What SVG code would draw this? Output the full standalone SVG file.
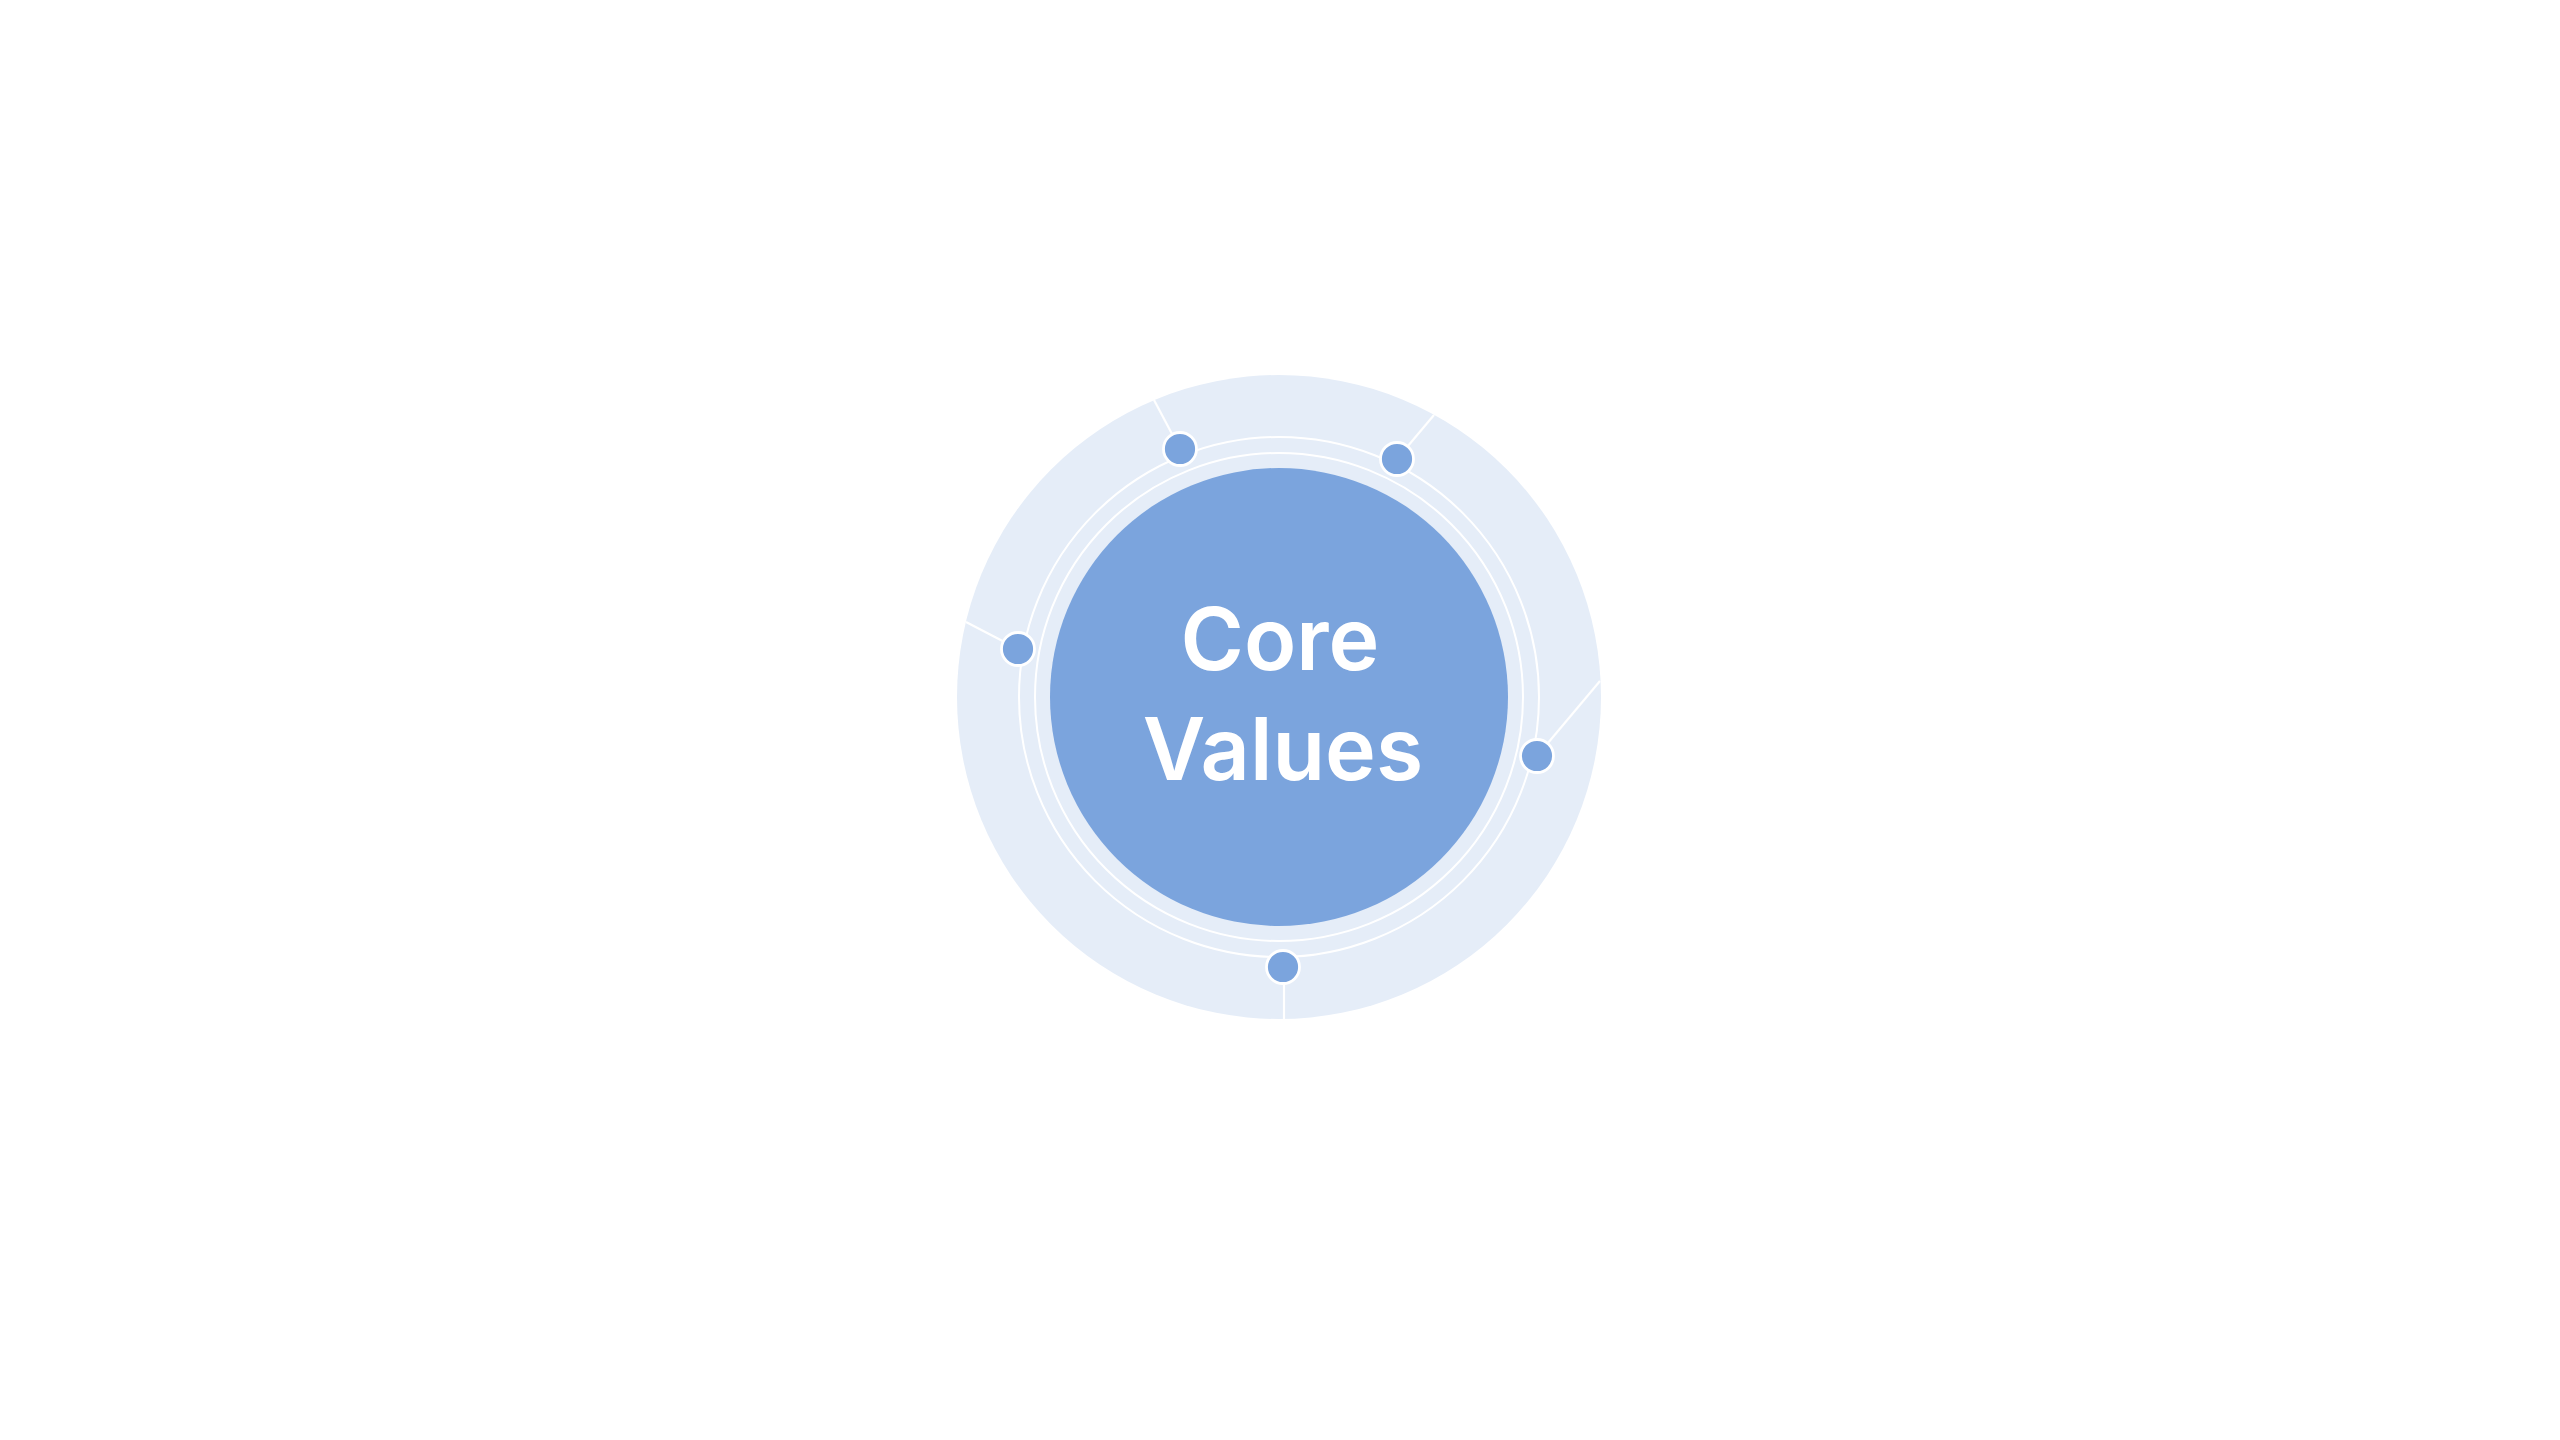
<svg xmlns="http://www.w3.org/2000/svg" width="2560" height="1440" viewBox="0 0 2560 1440">
  <style>
    .ring { fill: none; stroke: #ffffff; stroke-width: 2; }
    .link { stroke: #ffffff; stroke-width: 2.2; fill: none; }
    .dot { fill: #7ba4dd; stroke: #ffffff; stroke-width: 2.8; }
    .title { font-family: Inter, "Liberation Sans", sans-serif; font-weight: 600; font-size: 86px; fill: #ffffff; text-anchor: middle; }
  </style>
  <rect x="0" y="0" width="2560" height="1440" fill="#ffffff"/>
  <g id="outer-disc">
    <circle cx="1279" cy="697" r="322" fill="#e5edf8"/>
    <circle class="ring" cx="1279" cy="697" r="260"/>
    <circle class="ring" cx="1279" cy="697" r="244"/>
  </g>
  <g id="connectors">
    <line class="link" x1="1180" y1="449" x2="1154" y2="400"/>
    <line class="link" x1="1397" y1="459" x2="1434" y2="415"/>
    <line class="link" x1="1018" y1="649" x2="966" y2="622"/>
    <line class="link" x1="1537" y1="756" x2="1600" y2="681"/>
    <line class="link" x1="1284" y1="967" x2="1284" y2="1019"/>
  </g>
  <g id="core">
    <circle cx="1279" cy="697" r="229" fill="#7ba4dd"/>
    <text class="title" x="1280" y="670">Core</text>
    <text class="title" x="1283" y="780">Values</text>
  </g>
  <g id="dot-1"><circle class="dot" cx="1180" cy="449" r="16.5"/></g>
  <g id="dot-2"><circle class="dot" cx="1397" cy="459" r="16.5"/></g>
  <g id="dot-3"><circle class="dot" cx="1018" cy="649" r="16.5"/></g>
  <g id="dot-4"><circle class="dot" cx="1537" cy="756" r="16.5"/></g>
  <g id="dot-5"><circle class="dot" cx="1283" cy="967" r="16.5"/></g>
</svg>
